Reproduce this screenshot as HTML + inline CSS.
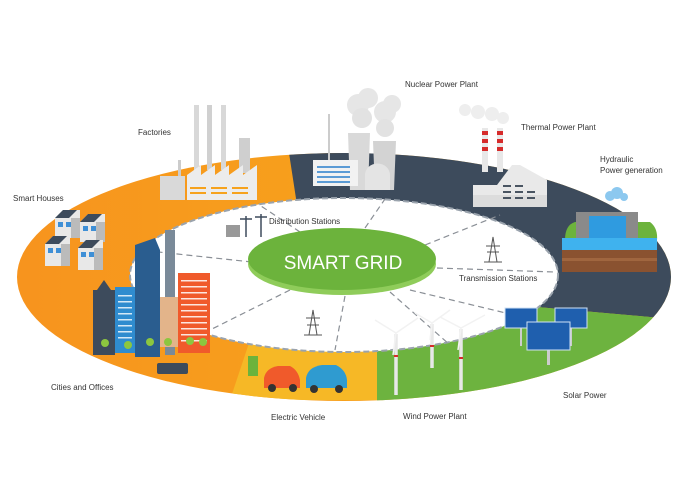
<!DOCTYPE html>
<html><head><meta charset="utf-8"><style>
html,body{margin:0;padding:0;background:#fff}
svg{display:block}
text{font-family:"Liberation Sans",sans-serif;fill:#333}
</style></head><body>
<svg width="680" height="500" viewBox="0 0 680 500" xmlns="http://www.w3.org/2000/svg">
<defs>
<linearGradient id="og" x1="0" y1="0" x2="1" y2="0">
<stop offset="0" stop-color="#f7931e"/><stop offset="0.55" stop-color="#f7a21c"/><stop offset="1" stop-color="#f6b826"/>
</linearGradient>
<clipPath id="ring"><ellipse cx="344" cy="277" rx="327" ry="124"/></clipPath>
</defs>
<g clip-path="url(#ring)">
<rect x="0" y="140" width="680" height="280" fill="url(#og)"/>
<polygon points="230,400 377,400 377,340 250,340" fill="#f6b826"/>
<polygon points="287,140 700,140 700,322 650,317 537,307 344,277 297,205" fill="#3d4b5c"/>
<polygon points="377,420 377,352 344,277 537,307 650,317 700,322 700,420" fill="#6db33f"/>
</g>
<ellipse cx="344" cy="275" rx="214" ry="77" fill="#fff" stroke="#9aa3ad" stroke-width="2" stroke-dasharray="6,3"/>
<g stroke="#8a8f96" stroke-width="1.2" stroke-dasharray="6,4" fill="none">
<line x1="300" y1="232" x2="258" y2="204"/>
<line x1="365" y1="228" x2="385" y2="199"/>
<line x1="425" y1="245" x2="500" y2="215"/>
<line x1="437" y1="268" x2="555" y2="272"/>
<line x1="410" y1="290" x2="535" y2="320"/>
<line x1="390" y1="292" x2="450" y2="345"/>
<line x1="345" y1="296" x2="335" y2="350"/>
<line x1="290" y1="290" x2="210" y2="330"/>
<line x1="252" y1="262" x2="140" y2="250"/>
</g>
<ellipse cx="342" cy="264" rx="94" ry="31" fill="#8fcc5a"/>
<ellipse cx="342" cy="259" rx="94" ry="31" fill="#6cb33c"/>
<text x="343" y="269" text-anchor="middle" font-size="19" style="fill:#fff">SMART GRID</text>

<!-- factory -->
<g>
<rect x="194" y="105" width="5" height="65" fill="#d8d8d8"/>
<rect x="207" y="105" width="5" height="65" fill="#d0d0d0"/>
<rect x="221" y="105" width="5" height="65" fill="#d8d8d8"/>
<rect x="239" y="138" width="11" height="35" fill="#cfcfcf"/>
<rect x="178" y="160" width="3" height="20" fill="#ccc"/>
<rect x="160" y="176" width="25" height="24" fill="#d9d9d9"/>
<polygon points="187,200 187,175 201,165 201,175 215,165 215,175 229,165 229,175 243,165 243,175 257,165 257,200" fill="#ececec"/>
<g fill="#f6a21c"><rect x="190" y="187" width="16" height="2"/><rect x="211" y="187" width="16" height="2"/><rect x="232" y="187" width="16" height="2"/><rect x="190" y="192" width="16" height="2"/><rect x="211" y="192" width="16" height="2"/><rect x="232" y="192" width="16" height="2"/></g>
</g>
<!-- nuclear -->
<g>
<circle cx="358" cy="105" r="11" fill="#e6e6e6"/><circle cx="368" cy="98" r="10" fill="#e6e6e6"/><circle cx="362" cy="118" r="10" fill="#e2e2e2"/>
<circle cx="385" cy="112" r="11" fill="#e6e6e6"/><circle cx="392" cy="104" r="9" fill="#e6e6e6"/><circle cx="385" cy="128" r="9" fill="#e2e2e2"/>
<polygon points="348,133 370,133 368,190 350,190" fill="#d9d9d9"/>
<polygon points="373,141 396,141 394,190 375,190" fill="#d3d3d3"/>
<rect x="328" y="114" width="2" height="46" fill="#ccc"/>
<rect x="313" y="160" width="45" height="26" fill="#f2f2f2"/>
<g fill="#5b9bd5"><rect x="317" y="166" width="33" height="2"/><rect x="317" y="171" width="33" height="2"/><rect x="317" y="176" width="33" height="2"/><rect x="317" y="181" width="33" height="2"/></g>
<path d="M365,190 V175 a12,11 0 0 1 25,0 V190 Z" fill="#e4e4e4"/>
</g>
<!-- thermal -->
<g>
<circle cx="465" cy="110" r="6" fill="#eee"/><circle cx="478" cy="112" r="7" fill="#eee"/><circle cx="492" cy="114" r="7" fill="#eee"/><circle cx="503" cy="118" r="6" fill="#eee"/>
<rect x="482" y="128" width="6" height="44" fill="#e8e8e8"/><rect x="497" y="128" width="6" height="44" fill="#e8e8e8"/>
<g fill="#d62b2b"><rect x="482" y="131" width="6" height="4"/><rect x="482" y="139" width="6" height="4"/><rect x="482" y="147" width="6" height="4"/><rect x="497" y="131" width="6" height="4"/><rect x="497" y="139" width="6" height="4"/><rect x="497" y="147" width="6" height="4"/></g>
<polygon points="473,207 473,185 497,185 512,165 520,165 547,180 547,207" fill="#e9e9e9"/>
<rect x="473" y="195" width="74" height="12" fill="#dcdcdc"/>
<g fill="#4a5562"><rect x="503" y="185" width="8" height="2"/><rect x="515" y="185" width="8" height="2"/><rect x="503" y="191" width="8" height="2"/><rect x="515" y="191" width="8" height="2"/><rect x="527" y="191" width="8" height="2"/><rect x="503" y="197" width="8" height="2"/><rect x="515" y="197" width="8" height="2"/><rect x="527" y="197" width="8" height="2"/></g>
</g>
<!-- hydro -->
<g>
<circle cx="610" cy="196" r="5" fill="#8cc8ef"/><circle cx="617" cy="193" r="6" fill="#8cc8ef"/><circle cx="624" cy="197" r="4" fill="#8cc8ef"/>
<path d="M565,240 Q565,225 575,222 L650,222 Q658,228 657,240 Z" fill="#6cb33c"/>
<rect x="576" y="212" width="62" height="30" fill="#8a8a8a"/>
<rect x="589" y="216" width="37" height="26" fill="#2f9be0"/>
<rect x="562" y="238" width="95" height="12" fill="#3fb2ee"/>
<rect x="562" y="250" width="95" height="22" fill="#8a5230"/>
<rect x="562" y="258" width="95" height="3" fill="#a0663f"/>
</g>
<!-- houses -->
<g>
<g transform="translate(55,210)"><polygon points="0,8 8,0 25,0 25,28 0,28" fill="#e8e8e8"/><polygon points="0,8 8,0 22,0 14,8" fill="#3d4b5c"/><rect x="3" y="12" width="5" height="5" fill="#3e8fd6"/><rect x="11" y="12" width="5" height="5" fill="#3e8fd6"/><rect x="16" y="8" width="9" height="20" fill="#bbb"/></g>
<g transform="translate(80,214)"><polygon points="0,8 8,0 25,0 25,28 0,28" fill="#e8e8e8"/><polygon points="0,8 8,0 22,0 14,8" fill="#3d4b5c"/><rect x="3" y="12" width="5" height="5" fill="#3e8fd6"/><rect x="11" y="12" width="5" height="5" fill="#3e8fd6"/><rect x="16" y="8" width="9" height="20" fill="#bbb"/></g>
<g transform="translate(45,236)"><polygon points="0,8 8,0 25,0 25,30 0,30" fill="#e8e8e8"/><polygon points="0,8 8,0 22,0 14,8" fill="#3d4b5c"/><rect x="3" y="12" width="5" height="5" fill="#3e8fd6"/><rect x="11" y="12" width="5" height="5" fill="#3e8fd6"/><rect x="16" y="8" width="9" height="22" fill="#bbb"/></g>
<g transform="translate(78,240)"><polygon points="0,8 8,0 25,0 25,30 0,30" fill="#e8e8e8"/><polygon points="0,8 8,0 22,0 14,8" fill="#3d4b5c"/><rect x="3" y="12" width="5" height="5" fill="#3e8fd6"/><rect x="11" y="12" width="5" height="5" fill="#3e8fd6"/><rect x="16" y="8" width="9" height="22" fill="#bbb"/></g>
</g>
<!-- city -->
<g>
<rect x="93" y="290" width="22" height="65" fill="#3d4b5c"/>
<polygon points="97,290 104,280 111,290" fill="#3d4b5c"/>
<rect x="115" y="287" width="20" height="66" fill="#2f8ccf"/>
<g fill="#fff" opacity="0.8"><rect x="118" y="295" width="14" height="1.5"/><rect x="118" y="301" width="14" height="1.5"/><rect x="118" y="307" width="14" height="1.5"/><rect x="118" y="313" width="14" height="1.5"/><rect x="118" y="319" width="14" height="1.5"/><rect x="118" y="325" width="14" height="1.5"/><rect x="118" y="331" width="14" height="1.5"/><rect x="118" y="337" width="14" height="1.5"/></g>
<polygon points="135,245 155,238 160,250 160,357 135,357" fill="#2a5d8f"/>
<rect x="165" y="230" width="10" height="125" fill="#7a8a99"/>
<rect x="160" y="297" width="18" height="50" fill="#e3b48a"/>
<rect x="178" y="273" width="32" height="80" fill="#f05a2b"/>
<g fill="#fff" opacity="0.85"><rect x="181" y="280" width="26" height="1.5"/><rect x="181" y="286" width="26" height="1.5"/><rect x="181" y="292" width="26" height="1.5"/><rect x="181" y="298" width="26" height="1.5"/><rect x="181" y="304" width="26" height="1.5"/><rect x="181" y="310" width="26" height="1.5"/><rect x="181" y="316" width="26" height="1.5"/><rect x="181" y="322" width="26" height="1.5"/><rect x="181" y="328" width="26" height="1.5"/><rect x="181" y="334" width="26" height="1.5"/><rect x="181" y="340" width="26" height="1.5"/></g>
<g fill="#8cc63f"><circle cx="105" cy="343" r="4"/><circle cx="128" cy="345" r="4"/><circle cx="150" cy="342" r="4"/><circle cx="168" cy="342" r="4"/><circle cx="190" cy="341" r="4"/><circle cx="203" cy="342" r="4"/></g>
<rect x="157" y="363" width="31" height="11" rx="2" fill="#3d4b5c"/>
</g>
<!-- distribution icon -->
<g stroke="#3d4b5c" stroke-width="1.5"><line x1="246" y1="216" x2="246" y2="237"/><line x1="240" y1="219" x2="252" y2="219"/><line x1="261" y1="214" x2="261" y2="237"/><line x1="255" y1="217" x2="267" y2="217"/></g>
<rect x="226" y="225" width="14" height="12" fill="#999"/>
<text x="269" y="224" font-size="8">Distribution Stations</text>
<!-- towers -->
<g stroke="#555" stroke-width="1" fill="none">
<path d="M489,262 L493,237 L497,262 M486,246 H500 M487,252 H499 M484,262 H502"/>
<path d="M309,335 L313,310 L317,335 M306,318 H320 M307,325 H319 M304,335 H322"/>
</g>
<text x="459" y="281" font-size="8">Transmission Stations</text>
<!-- cars -->
<rect x="248" y="356" width="10" height="20" fill="#6cb33c"/>
<path d="M264,388 V378 Q266,368 278,366 L290,366 Q298,370 300,380 V388 Z" fill="#f05a2b"/>
<circle cx="272" cy="388" r="4" fill="#333"/><circle cx="293" cy="388" r="4" fill="#333"/>
<path d="M306,388 V378 Q308,367 322,365 L336,365 Q346,370 347,380 V388 Z" fill="#2f9bd0"/>
<circle cx="314" cy="389" r="4" fill="#333"/><circle cx="339" cy="389" r="4" fill="#333"/>
<!-- turbines -->
<g stroke="#e8e8e8" stroke-width="3.5">
<line x1="396" y1="334" x2="396" y2="395"/><line x1="432" y1="324" x2="432" y2="368"/><line x1="461" y1="329" x2="461" y2="390"/>
</g>
<g stroke="#f2f2f2" stroke-width="1.5">
<line x1="396" y1="333" x2="375" y2="320"/><line x1="396" y1="333" x2="418" y2="318"/><line x1="396" y1="333" x2="393" y2="355"/>
<line x1="432" y1="323" x2="415" y2="313"/><line x1="432" y1="323" x2="450" y2="310"/><line x1="432" y1="323" x2="430" y2="340"/>
<line x1="461" y1="328" x2="440" y2="317"/><line x1="461" y1="328" x2="485" y2="315"/><line x1="461" y1="328" x2="458" y2="350"/>
</g>
<g fill="#d62b2b"><rect x="394" y="355" width="4" height="2"/><rect x="430" y="345" width="4" height="2"/><rect x="459" y="357" width="4" height="2"/></g>
<!-- solar -->
<g>
<rect x="520" y="328" width="2" height="18" fill="#ccc"/><rect x="570" y="328" width="2" height="18" fill="#ccc"/><rect x="547" y="350" width="3" height="15" fill="#ccc"/>
<rect x="505" y="308" width="32" height="20" fill="#1f5fae" stroke="#cfe0f5" stroke-width="1"/>
<rect x="555" y="308" width="32" height="20" fill="#1f5fae" stroke="#cfe0f5" stroke-width="1"/>
<rect x="527" y="322" width="43" height="28" fill="#1f5fae" stroke="#cfe0f5" stroke-width="1"/>
</g>
<!-- labels -->
<text x="405" y="87" font-size="8">Nuclear Power Plant</text>
<text x="138" y="135" font-size="8">Factories</text>
<text x="521" y="130" font-size="8">Thermal Power Plant</text>
<text x="600" y="162" font-size="8">Hydraulic</text>
<text x="600" y="173" font-size="8">Power generation</text>
<text x="13" y="201" font-size="8">Smart Houses</text>
<text x="51" y="390" font-size="8">Cities and Offices</text>
<text x="563" y="398" font-size="8">Solar Power</text>
<text x="271" y="420" font-size="8">Electric Vehicle</text>
<text x="403" y="419" font-size="8">Wind Power Plant</text>
</svg>
</body></html>
